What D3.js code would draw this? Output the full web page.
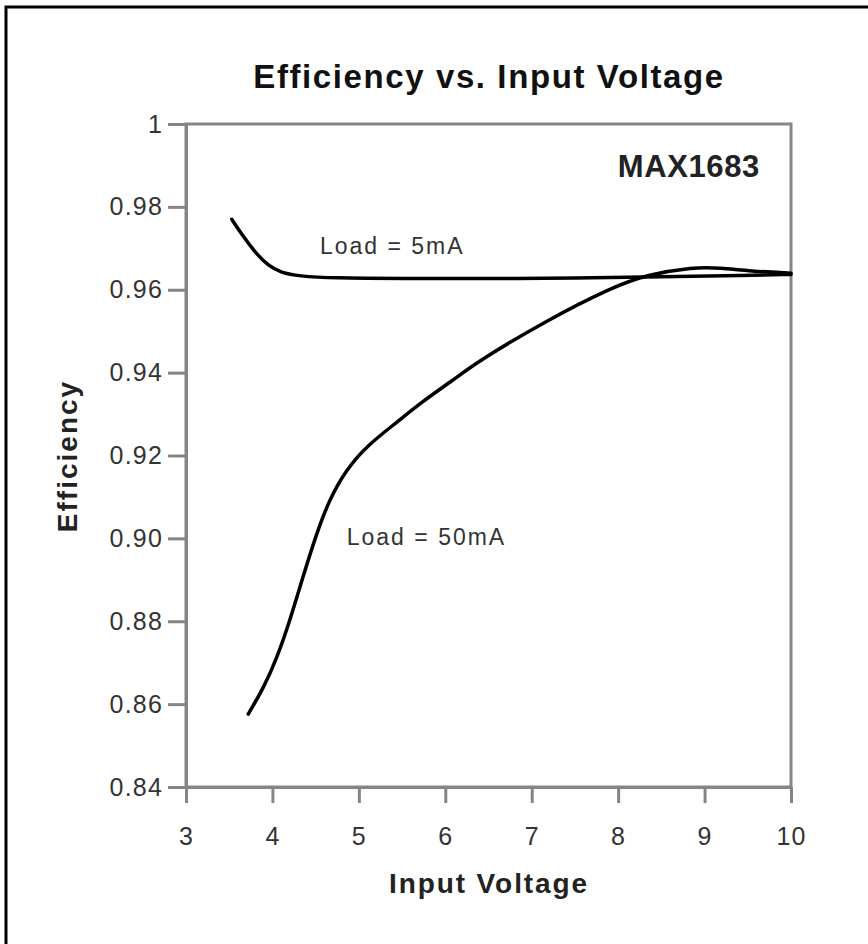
<!DOCTYPE html>
<html lang="en">
<head>
<meta charset="utf-8">
<title>Efficiency vs. Input Voltage</title>
<script src="https://cdn.jsdelivr.net/npm/d3@7/dist/d3.min.js"></script>
<style>
    body { margin: 0; background: #fff; }
    svg text { font-family: "Liberation Sans", Arial, Helvetica, sans-serif; }
</style>
</head>
<body>
<div id="chart"></div>
<script>
    // tick values and labels
    var xTicks = [3, 4, 5, 6, 7, 8, 9, 10];
    var xTickLabels = ["3", "4", "5", "6", "7", "8", "9", "10"];
    var yTicks = [0.84, 0.86, 0.88, 0.90, 0.92, 0.94, 0.96, 0.98, 1];
    var yTickLabels = ["0.84", "0.86", "0.88", "0.90", "0.92", "0.94", "0.96", "0.98", "1"];

    // curves: [input voltage, efficiency]
    var load5mA = [
        [3.53, 0.9770], [3.65, 0.9732], [3.80, 0.9690], [3.95, 0.9658],
        [4.10, 0.9641], [4.30, 0.9633], [4.70, 0.9628], [5.50, 0.9627],
        [6.50, 0.9627], [7.50, 0.9628], [8.50, 0.9631], [9.50, 0.9635],
        [10.0, 0.9637]
    ];
    var load50mA = [
        [3.72, 0.8576], [3.90, 0.8640], [4.05, 0.8710], [4.20, 0.8800],
        [4.35, 0.8905], [4.50, 0.9005], [4.65, 0.9090], [4.85, 0.9165],
        [5.10, 0.9225], [5.44, 0.9280], [5.70, 0.9325], [6.09, 0.9382],
        [6.40, 0.9430], [7.18, 0.9527], [7.94, 0.9607], [8.33, 0.9636],
        [8.87, 0.9655], [9.18, 0.9653], [9.53, 0.9645], [10.0, 0.9640]
    ];

    var w = 868;
    var h = 944;
    var margin = {left: 186, top: 124, right: 77, bottom: 157};
    var plotW = w - margin.left - margin.right;
    var plotH = h - margin.top - margin.bottom;
    var axisColor = "#858585";

    var xScale = d3.scaleLinear().domain([3, 10]).range([0, plotW]);
    var yScale = d3.scaleLinear().domain([0.84, 1]).range([plotH, 0]);

    var svg = d3.select("#chart")
        .append("svg")
        .attr("width", w)
        .attr("height", h);

    // outer frame (only top and left edges show in the picture)
    svg.append("path")
        .attr("d", "M6," + h + "V7H" + w)
        .attr("fill", "none")
        .attr("stroke", "#000")
        .attr("stroke-width", 3);

    svg.append("text")
        .attr("x", 489)
        .attr("y", 88)
        .attr("text-anchor", "middle")
        .attr("font-size", 33)
        .attr("font-weight", "bold")
        .attr("letter-spacing", 1.6)
        .attr("fill", "#111")
        .text("Efficiency vs. Input Voltage");

    var g = svg.append("g")
        .attr("transform", "translate(" + margin.left + "," + margin.top + ")");

    var yAxis = d3.axisLeft(yScale)
        .tickValues(yTicks)
        .tickFormat(function (d, i) { return yTickLabels[i]; })
        .tickSize(18)
        .tickSizeOuter(0)
        .tickPadding(5);

    var xAxis = d3.axisBottom(xScale)
        .tickValues(xTicks)
        .tickFormat(function (d, i) { return xTickLabels[i]; })
        .tickSize(16)
        .tickSizeOuter(0)
        .tickPadding(24);

    g.append("g")
        .attr("class", "axis")
        .call(yAxis);

    g.append("g")
        .attr("class", "axis")
        .attr("transform", "translate(0," + plotH + ")")
        .call(xAxis);

    g.selectAll(".axis path, .axis line")
        .attr("stroke", axisColor)
        .attr("stroke-width", 3);
    g.selectAll(".axis text")
        .attr("font-size", 25)
        .attr("letter-spacing", 1.2)
        .attr("fill", "#333")
        .attr("font-family", "Liberation Sans, Arial, sans-serif");

    // plot frame
    g.append("rect")
        .attr("width", plotW)
        .attr("height", plotH)
        .attr("fill", "none")
        .attr("stroke", axisColor)
        .attr("stroke-width", 3);

    var line = d3.line()
        .x(function (d) { return xScale(d[0]); })
        .y(function (d) { return yScale(d[1]); })
        .curve(d3.curveBasis);

    [load5mA, load50mA].forEach(function (series) {
        g.append("path")
            .datum(series)
            .attr("d", line)
            .attr("fill", "none")
            .attr("stroke", "#000")
            .attr("stroke-width", 3.5)
            .attr("stroke-linecap", "round");
    });

    // annotations
    g.append("text")
        .attr("x", xScale(4.55))
        .attr("y", yScale(0.9686))
        .attr("font-size", 23)
        .attr("letter-spacing", 2)
        .attr("fill", "#333")
        .text("Load = 5mA");

    g.append("text")
        .attr("x", xScale(4.86))
        .attr("y", yScale(0.8984))
        .attr("font-size", 23)
        .attr("letter-spacing", 2)
        .attr("fill", "#333")
        .text("Load = 50mA");

    g.append("text")
        .attr("x", xScale(9.64))
        .attr("y", yScale(0.9872))
        .attr("text-anchor", "end")
        .attr("font-size", 31)
        .attr("font-weight", "bold")
        .attr("letter-spacing", 0.6)
        .attr("fill", "#222")
        .text("MAX1683");

    // axis titles
    svg.append("text")
        .attr("text-anchor", "middle")
        .attr("transform", "translate(489,893)")
        .attr("font-size", 28)
        .attr("font-weight", "bold")
        .attr("letter-spacing", 1.9)
        .attr("fill", "#222")
        .text("Input Voltage");

    svg.append("text")
        .attr("text-anchor", "middle")
        .attr("transform", "translate(77,456)rotate(-90)")
        .attr("font-size", 28)
        .attr("font-weight", "bold")
        .attr("letter-spacing", 2)
        .attr("fill", "#222")
        .text("Efficiency");
</script>
</body>
</html>
